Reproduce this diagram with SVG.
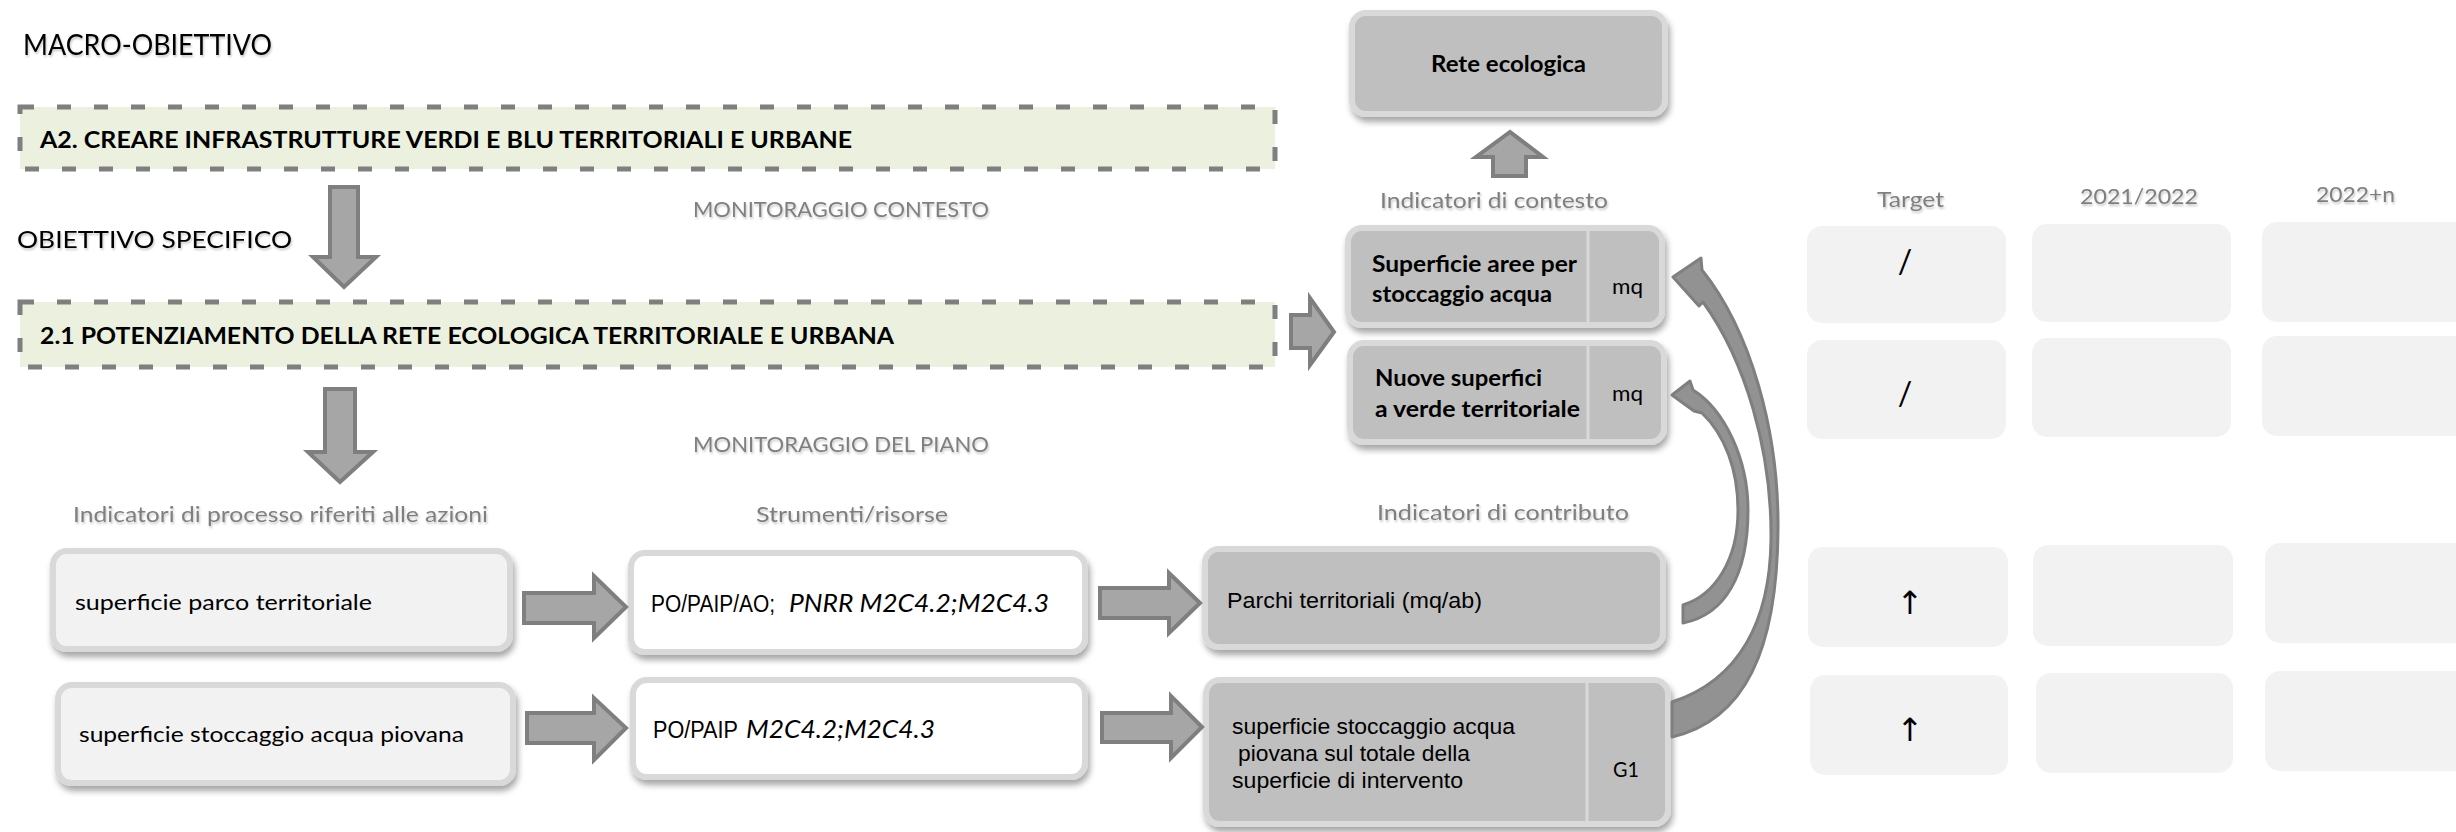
<svg xmlns="http://www.w3.org/2000/svg" width="2456" height="832" viewBox="0 0 2456 832">
<defs>
<filter id="sh" x="-5%" y="-10%" width="115%" height="140%"><feDropShadow dx="2" dy="5" stdDeviation="3" flood-color="#000" flood-opacity="0.35"/></filter>
<filter id="ts" x="-5%" y="-30%" width="110%" height="170%"><feDropShadow dx="1" dy="2" stdDeviation="1" flood-color="#000" flood-opacity="0.22"/></filter>
</defs>
<style>
.cal{font-family:Lato,"Open Sans","Liberation Sans",sans-serif}
.ari{font-family:"Liberation Sans",Arial,sans-serif}
.dvs{font-family:"DejaVu Sans","Liberation Sans",sans-serif}
.b{font-weight:bold}
.it{font-style:italic}
.hd{fill:#7f7f7f}
.tx{fill:#000}
.dash{fill:#ebf1de;stroke:#7f7f7f;stroke-width:5;stroke-dasharray:14 23}
.gbox{fill:#bfbfbf;stroke:#d9d9d9;stroke-width:6;filter:url(#sh)}
.lbox{fill:#f2f2f2;stroke:#d9d9d9;stroke-width:6;filter:url(#sh)}
.wbox{fill:#ffffff;stroke:#d9d9d9;stroke-width:6;filter:url(#sh)}
.cell{fill:#f2f2f2}
.arr{fill:#a6a6a6;stroke:#7f7f7f;stroke-width:4}
.carr{fill:#929292;stroke:#7f7f7f;stroke-width:3;stroke-linejoin:round}
.dv{stroke:#d9d9d9;stroke-width:3}
</style>

<rect width="2456" height="832" fill="#ffffff"/>

<!-- section labels -->
<g id="labels">
<text class="cal tx" x="23" y="55" font-size="28" textLength="249" lengthAdjust="spacingAndGlyphs" filter="url(#ts)">MACRO-OBIETTIVO</text>
<text class="cal tx" x="17" y="248" font-size="24" textLength="275" lengthAdjust="spacingAndGlyphs" filter="url(#ts)">OBIETTIVO SPECIFICO</text>
<text class="cal hd" x="693" y="217" font-size="21" textLength="296" lengthAdjust="spacingAndGlyphs" filter="url(#ts)">MONITORAGGIO CONTESTO</text>
<text class="cal hd" x="693" y="452" font-size="21" textLength="296" lengthAdjust="spacingAndGlyphs" filter="url(#ts)">MONITORAGGIO DEL PIANO</text>
<text class="cal hd" x="73" y="522" font-size="21" textLength="415" lengthAdjust="spacingAndGlyphs" filter="url(#ts)">Indicatori di processo riferiti alle azioni</text>
<text class="cal hd" x="756" y="522" font-size="21" textLength="192" lengthAdjust="spacingAndGlyphs" filter="url(#ts)">Strumenti/risorse</text>
<text class="cal hd" x="1377" y="520" font-size="21" textLength="252" lengthAdjust="spacingAndGlyphs" filter="url(#ts)">Indicatori di contributo</text>
<text class="cal hd" x="1380" y="208" font-size="21" textLength="228" lengthAdjust="spacingAndGlyphs" filter="url(#ts)">Indicatori di contesto</text>
<text class="cal hd" x="1877" y="207" font-size="21" textLength="67" lengthAdjust="spacingAndGlyphs" filter="url(#ts)">Target</text>
<text class="cal hd" x="2080" y="204" font-size="21" textLength="118" lengthAdjust="spacingAndGlyphs" filter="url(#ts)">2021/2022</text>
<text class="cal hd" x="2316" y="202" font-size="21" textLength="79" lengthAdjust="spacingAndGlyphs" filter="url(#ts)">2022+n</text>
</g>

<!-- objectives -->
<g id="macro-obiettivo">
<rect class="dash" x="20" y="107" width="1255" height="62"/>
<text class="cal b tx" x="40" y="148" font-size="23" textLength="812" lengthAdjust="spacingAndGlyphs">A2. CREARE INFRASTRUTTURE VERDI E BLU TERRITORIALI E URBANE</text>
</g>
<g id="obiettivo-specifico">
<rect class="dash" x="20" y="302" width="1255" height="65"/>
<text class="cal b tx" x="40" y="344" font-size="23" textLength="854" lengthAdjust="spacingAndGlyphs">2.1 POTENZIAMENTO DELLA RETE ECOLOGICA TERRITORIALE E URBANA</text>
</g>

<!-- context indicators -->
<g id="rete-ecologica">
<rect class="gbox" x="1352" y="13" width="313" height="101" rx="14"/>
<text class="cal b tx" x="1431" y="72" font-size="23" textLength="155" lengthAdjust="spacingAndGlyphs">Rete ecologica</text>
</g>
<g id="ctx-superficie-aree">
<rect class="gbox" x="1348" y="228" width="314" height="97" rx="14"/>
<line class="dv" x1="1588" y1="231" x2="1588" y2="322"/>
<text class="cal b tx" x="1372" y="272" font-size="22" textLength="205" lengthAdjust="spacingAndGlyphs">Superficie aree per</text>
<text class="cal b tx" x="1372" y="302" font-size="22" textLength="180" lengthAdjust="spacingAndGlyphs">stoccaggio  acqua</text>
<text class="cal tx" x="1612" y="294" font-size="21" textLength="31" lengthAdjust="spacingAndGlyphs">mq</text>
</g>
<g id="ctx-nuove-superfici">
<rect class="gbox" x="1350" y="343" width="314" height="99" rx="14"/>
<line class="dv" x1="1588" y1="346" x2="1588" y2="439"/>
<text class="cal b tx" x="1375" y="386" font-size="22" textLength="167" lengthAdjust="spacingAndGlyphs">Nuove superfici</text>
<text class="cal b tx" x="1375" y="417" font-size="22" textLength="205" lengthAdjust="spacingAndGlyphs">a verde territoriale</text>
<text class="cal tx" x="1612" y="401" font-size="21" textLength="31" lengthAdjust="spacingAndGlyphs">mq</text>
</g>

<!-- process indicators -->
<g id="proc-parco">
<rect class="lbox" x="53" y="551" width="457" height="98" rx="14"/>
<text class="cal tx" x="75" y="610" font-size="22" textLength="297" lengthAdjust="spacingAndGlyphs">superficie parco territoriale</text>
</g>
<g id="proc-stoccaggio">
<rect class="lbox" x="58" y="685" width="455" height="98" rx="14"/>
<text class="cal tx" x="79" y="742" font-size="22" textLength="385" lengthAdjust="spacingAndGlyphs">superficie stoccaggio acqua piovana</text>
</g>

<!-- tools/resources -->
<g id="strumenti-1">
<rect class="wbox" x="631" y="553" width="454" height="99" rx="14"/>
<text class="ari tx" x="651" y="612" font-size="23" textLength="124" lengthAdjust="spacingAndGlyphs">PO/PAIP/AO;</text>
<text class="cal it tx" x="789" y="612" font-size="25" textLength="260" lengthAdjust="spacingAndGlyphs">PNRR M2C4.2;M2C4.3</text>
</g>
<g id="strumenti-2">
<rect class="wbox" x="633" y="680" width="452" height="97" rx="14"/>
<text class="ari tx" x="653" y="738" font-size="23" textLength="85" lengthAdjust="spacingAndGlyphs">PO/PAIP</text>
<text class="cal it tx" x="746" y="738" font-size="25" textLength="189" lengthAdjust="spacingAndGlyphs">M2C4.2;M2C4.3</text>
</g>

<!-- contribution indicators -->
<g id="contrib-parchi">
<rect class="gbox" x="1205" y="549" width="458" height="98" rx="14"/>
<text class="ari tx" x="1227" y="608" font-size="22" textLength="255" lengthAdjust="spacingAndGlyphs">Parchi territoriali (mq/ab)</text>
</g>
<g id="contrib-stoccaggio">
<rect class="gbox" x="1206" y="680" width="462" height="144" rx="14"/>
<line class="dv" x1="1587" y1="683" x2="1587" y2="821"/>
<text class="ari tx" x="1232" y="734" font-size="22" textLength="283" lengthAdjust="spacingAndGlyphs">superficie stoccaggio acqua</text>
<text class="ari tx" x="1238" y="761" font-size="22" textLength="232" lengthAdjust="spacingAndGlyphs">piovana sul totale della</text>
<text class="ari tx" x="1232" y="788" font-size="22" textLength="231" lengthAdjust="spacingAndGlyphs">superficie di intervento</text>
<text class="cal tx" x="1613" y="777" font-size="21" textLength="26" lengthAdjust="spacingAndGlyphs">G1</text>
</g>

<!-- value grid -->
<g id="grid">
<rect class="cell" x="1807" y="226" width="199" height="97" rx="15"/>
<rect class="cell" x="2032" y="224" width="199" height="98" rx="15"/>
<rect class="cell" x="2262" y="222" width="210" height="100" rx="15"/>
<rect class="cell" x="1807" y="340" width="199" height="99" rx="15"/>
<rect class="cell" x="2032" y="338" width="199" height="99" rx="15"/>
<rect class="cell" x="2262" y="336" width="210" height="100" rx="15"/>
<rect class="cell" x="1808" y="547" width="200" height="100" rx="15"/>
<rect class="cell" x="2033" y="545" width="200" height="101" rx="15"/>
<rect class="cell" x="2265" y="543" width="210" height="100" rx="15"/>
<rect class="cell" x="1810" y="675" width="198" height="100" rx="15"/>
<rect class="cell" x="2036" y="673" width="197" height="100" rx="15"/>
<rect class="cell" x="2265" y="671" width="210" height="100" rx="15"/>
<text class="cal tx" x="1905" y="273" font-size="32" text-anchor="middle">/</text>
<text class="cal tx" x="1905" y="405" font-size="32" text-anchor="middle">/</text>
<text class="dvs tx" x="1910" y="614" font-size="32" text-anchor="middle">↑</text>
<text class="dvs tx" x="1910" y="741" font-size="32" text-anchor="middle">↑</text>
</g>

<!-- connectors -->
<g id="connectors">
<polygon class="arr" points="330,187 358,187 358,257 376,257 344,287 313,257 330,257"/>
<polygon class="arr" points="325,389 355,389 355,452 373,452 340,482 308,452 325,452"/>
<polygon class="arr" points="1291,315 1310,315 1310,298 1334,332 1310,365 1310,348 1291,348"/>
<polygon class="arr" points="524,593 594,593 594,576 626,607 594,638 594,623 524,623"/>
<polygon class="arr" points="527,713 594,713 594,698 626,728 594,760 594,743 527,743"/>
<polygon class="arr" points="1100,588 1169,588 1169,573 1200,603 1169,633 1169,618 1100,618"/>
<polygon class="arr" points="1102,713 1171,713 1171,696 1202,727 1171,758 1171,742 1102,742"/>
<polygon class="arr" points="1493,176 1493,157 1476,157 1510,132 1543,157 1526,157 1526,176"/>
<path class="carr" d="M1672,702 C1740,680 1770,620 1771,540 C1772,450 1745,360 1703,302 L1699,306 L1673,277 L1701,258 L1702,270 C1750,330 1779,430 1778,530 C1777,650 1745,720 1672,737 Z"/>
<path class="carr" d="M1683,605 C1715,595 1738,560 1738,510 C1738,470 1725,435 1702,413 L1694,411 L1672,395 L1690,381 L1693,390 C1725,410 1748,460 1748,510 C1748,575 1725,615 1683,623 Z"/>
</g>
</svg>
